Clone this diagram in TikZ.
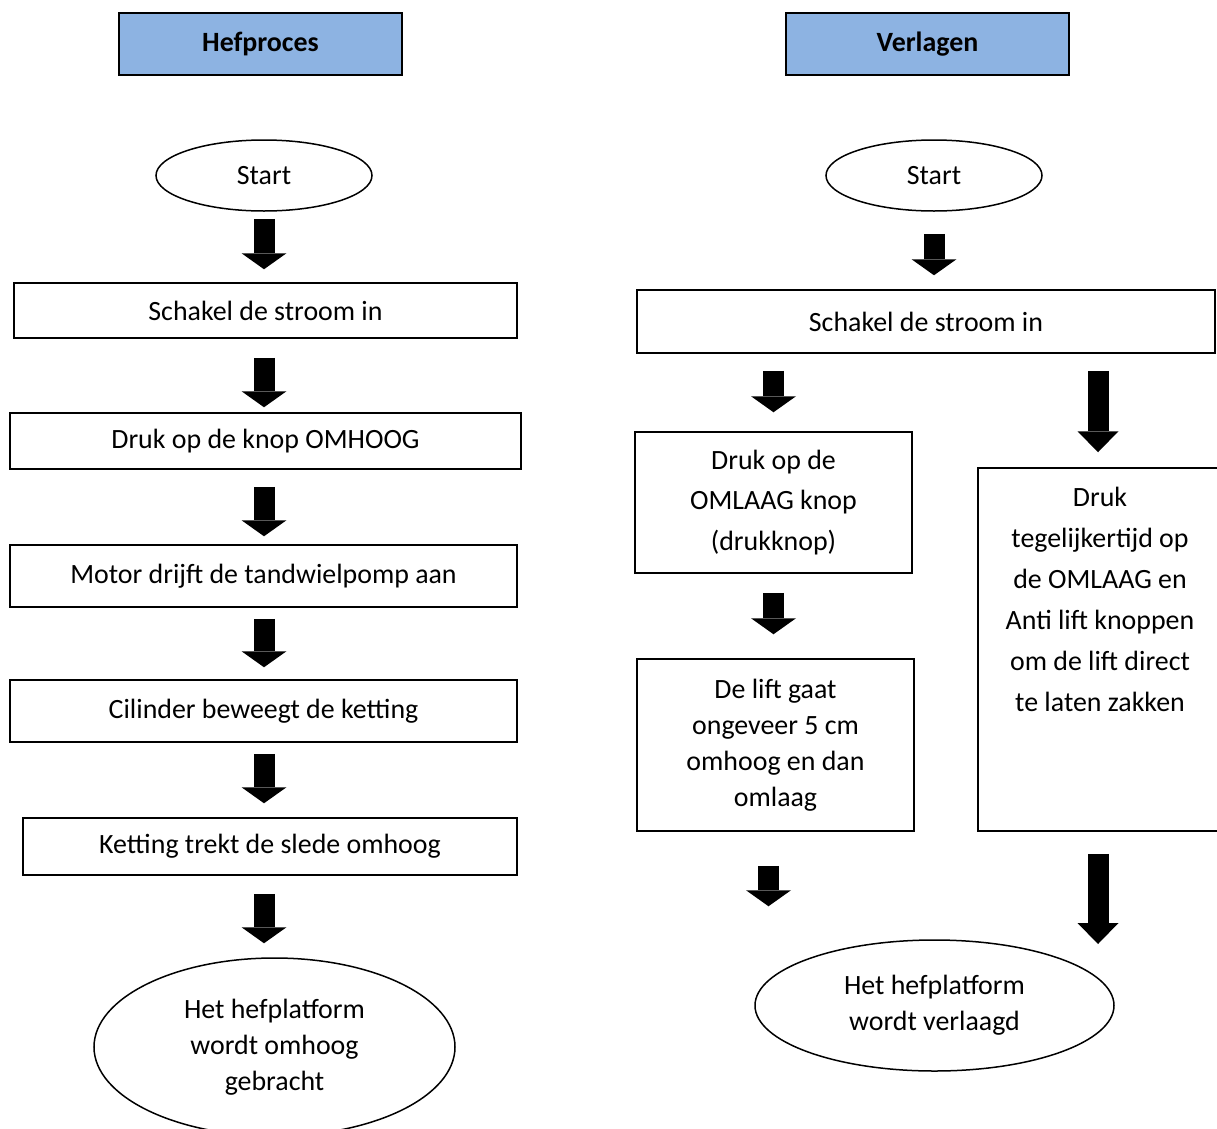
\documentclass[tikz,border=0pt]{standalone}
\usepackage{fontspec}
\setmainfont{Carlito}
\usetikzlibrary{arrows.meta, shapes.geometric}
\definecolor{hefblue}{HTML}{8DB3E2}

\begin{document}
\begin{tikzpicture}[x=1bp, y=-1bp,
    tekst/.style={font=\fontsize{28}{41}\selectfont, align=center},
    kop/.style={draw, line width=1.5bp, fill=hefblue, minimum width=283bp,
      minimum height=62bp, font=\fontsize{28}{34}\selectfont\bfseries},
    stap/.style={draw, line width=1.5bp, tekst, inner sep=0pt},
    rond/.style={ellipse, draw, line width=1.5bp, tekst, inner sep=0pt},
    pijl/.style={line width=21bp,
      -{Triangle[width=45bp, length=16bp, line width=0pt]}},
    pijllang/.style={line width=21bp,
      -{Triangle[width=41bp, length=21bp, line width=0pt]}}]
  \useasboundingbox (0,0) rectangle (1217,1129);
  \clip (0,0) rectangle (1217,1129);
  \node[kop] (hef) at (260.5,44) {Hefproces};
  \node[kop] (verl) at (927.5,44) {Verlagen};

  % hefproces
  \node[rond, minimum width=216bp, minimum height=71bp] (start1) at (264,175.5) {Start};
  \node[stap, minimum width=503bp, minimum height=55bp] (s1) at (265.5,310.5) {Schakel de stroom in};
  \node[stap, minimum width=511bp, minimum height=56bp] (k1) at (265.5,441) {Druk op de knop OMHOOG};
  \node[stap, minimum width=507bp, minimum height=62bp] (m1) at (263.5,576) {Motor drijft de tandwielpomp aan};
  \node[stap, minimum width=507bp, minimum height=62bp] (c1) at (263.5,711) {Cilinder beweegt de ketting};
  \node[stap, minimum width=494bp, minimum height=57bp] (t1) at (270,846.5) {Ketting trekt de slede omhoog};
  \node[rond, minimum width=361bp, minimum height=178bp, font=\fontsize{28}{36}\selectfont]
    (eind1) at (274.5,1047) {Het hefplatform\\wordt omhoog\\gebracht};

  \draw[pijl, shorten <=7bp, shorten >=13bp] (start1.south) -- (start1.south |- s1.north);
  \draw[pijl, shorten <=19bp, shorten >=5bp] (s1.south -| start1) -- (k1.north -| start1);
  \draw[pijl, shorten <=17bp, shorten >=8bp] (k1.south -| start1) -- (m1.north -| start1);
  \draw[pijl, shorten <=11bp, shorten >=12bp] (m1.south -| start1) -- (c1.north -| start1);
  \draw[pijl, shorten <=11bp, shorten >=14bp] (c1.south -| start1) -- (t1.north -| start1);
  \draw[pijl, shorten <=18bp, shorten >=14bp] (t1.south -| start1) -- (eind1.north -| start1);

  % verlagen
  \node[rond, minimum width=216bp, minimum height=71bp] (start2) at (934,175.5) {Start};
  \node[stap, minimum width=578bp, minimum height=63bp] (s2) at (926,321.5) {Schakel de stroom in};
  \node[stap, minimum width=277bp, minimum height=141bp] (d2) at (773.5,502.5)
    {Druk op de\\OMLAAG knop\\(drukknop)};
  \node[stap, minimum width=277bp, minimum height=172bp, font=\fontsize{28}{36}\selectfont]
    (lift) at (775.5,745) {De lift gaat\\ongeveer 5 cm\\omhoog en dan\\omlaag};
  \node[stap, minimum width=244bp, minimum height=363bp,
    label={[tekst, inner sep=0pt, anchor=north, yshift=-20bp]north:{Druk\\tegelijkertijd op\\de OMLAAG en\\Anti lift knoppen\\om de lift direct\\te laten zakken}}]
    (samen) at (1100,649.5) {};
  \node[rond, minimum width=359bp, minimum height=131bp, font=\fontsize{28}{36}\selectfont]
    (eind2) at (934.5,1005.5) {Het hefplatform\\wordt verlaagd};

  \draw[pijl, shorten <=22bp, shorten >=14bp] (start2.south) -- (start2.south |- s2.north);
  \draw[pijl, shorten <=17bp, shorten >=19bp] (s2.south -| d2) -- (d2.north);
  \draw[pijllang, shorten <=17bp, shorten >=15bp] ([xshift=-2bp]s2.south -| samen) -- ([xshift=-2bp]samen.north);
  \draw[pijl, shorten <=19bp, shorten >=24bp] (d2.south) -- (d2.south |- lift.north);
  \draw[pijl, shorten <=34bp, shorten >=33bp] ([xshift=-7bp]lift.south) -- ([xshift=-7bp]lift.south |- eind2.north);
  \draw[pijllang, shorten <=22bp, shorten >=61.5bp] ([xshift=-2bp]samen.south) -- ([xshift=-2bp]samen.south |- eind2.center);
\end{tikzpicture}
\end{document}
